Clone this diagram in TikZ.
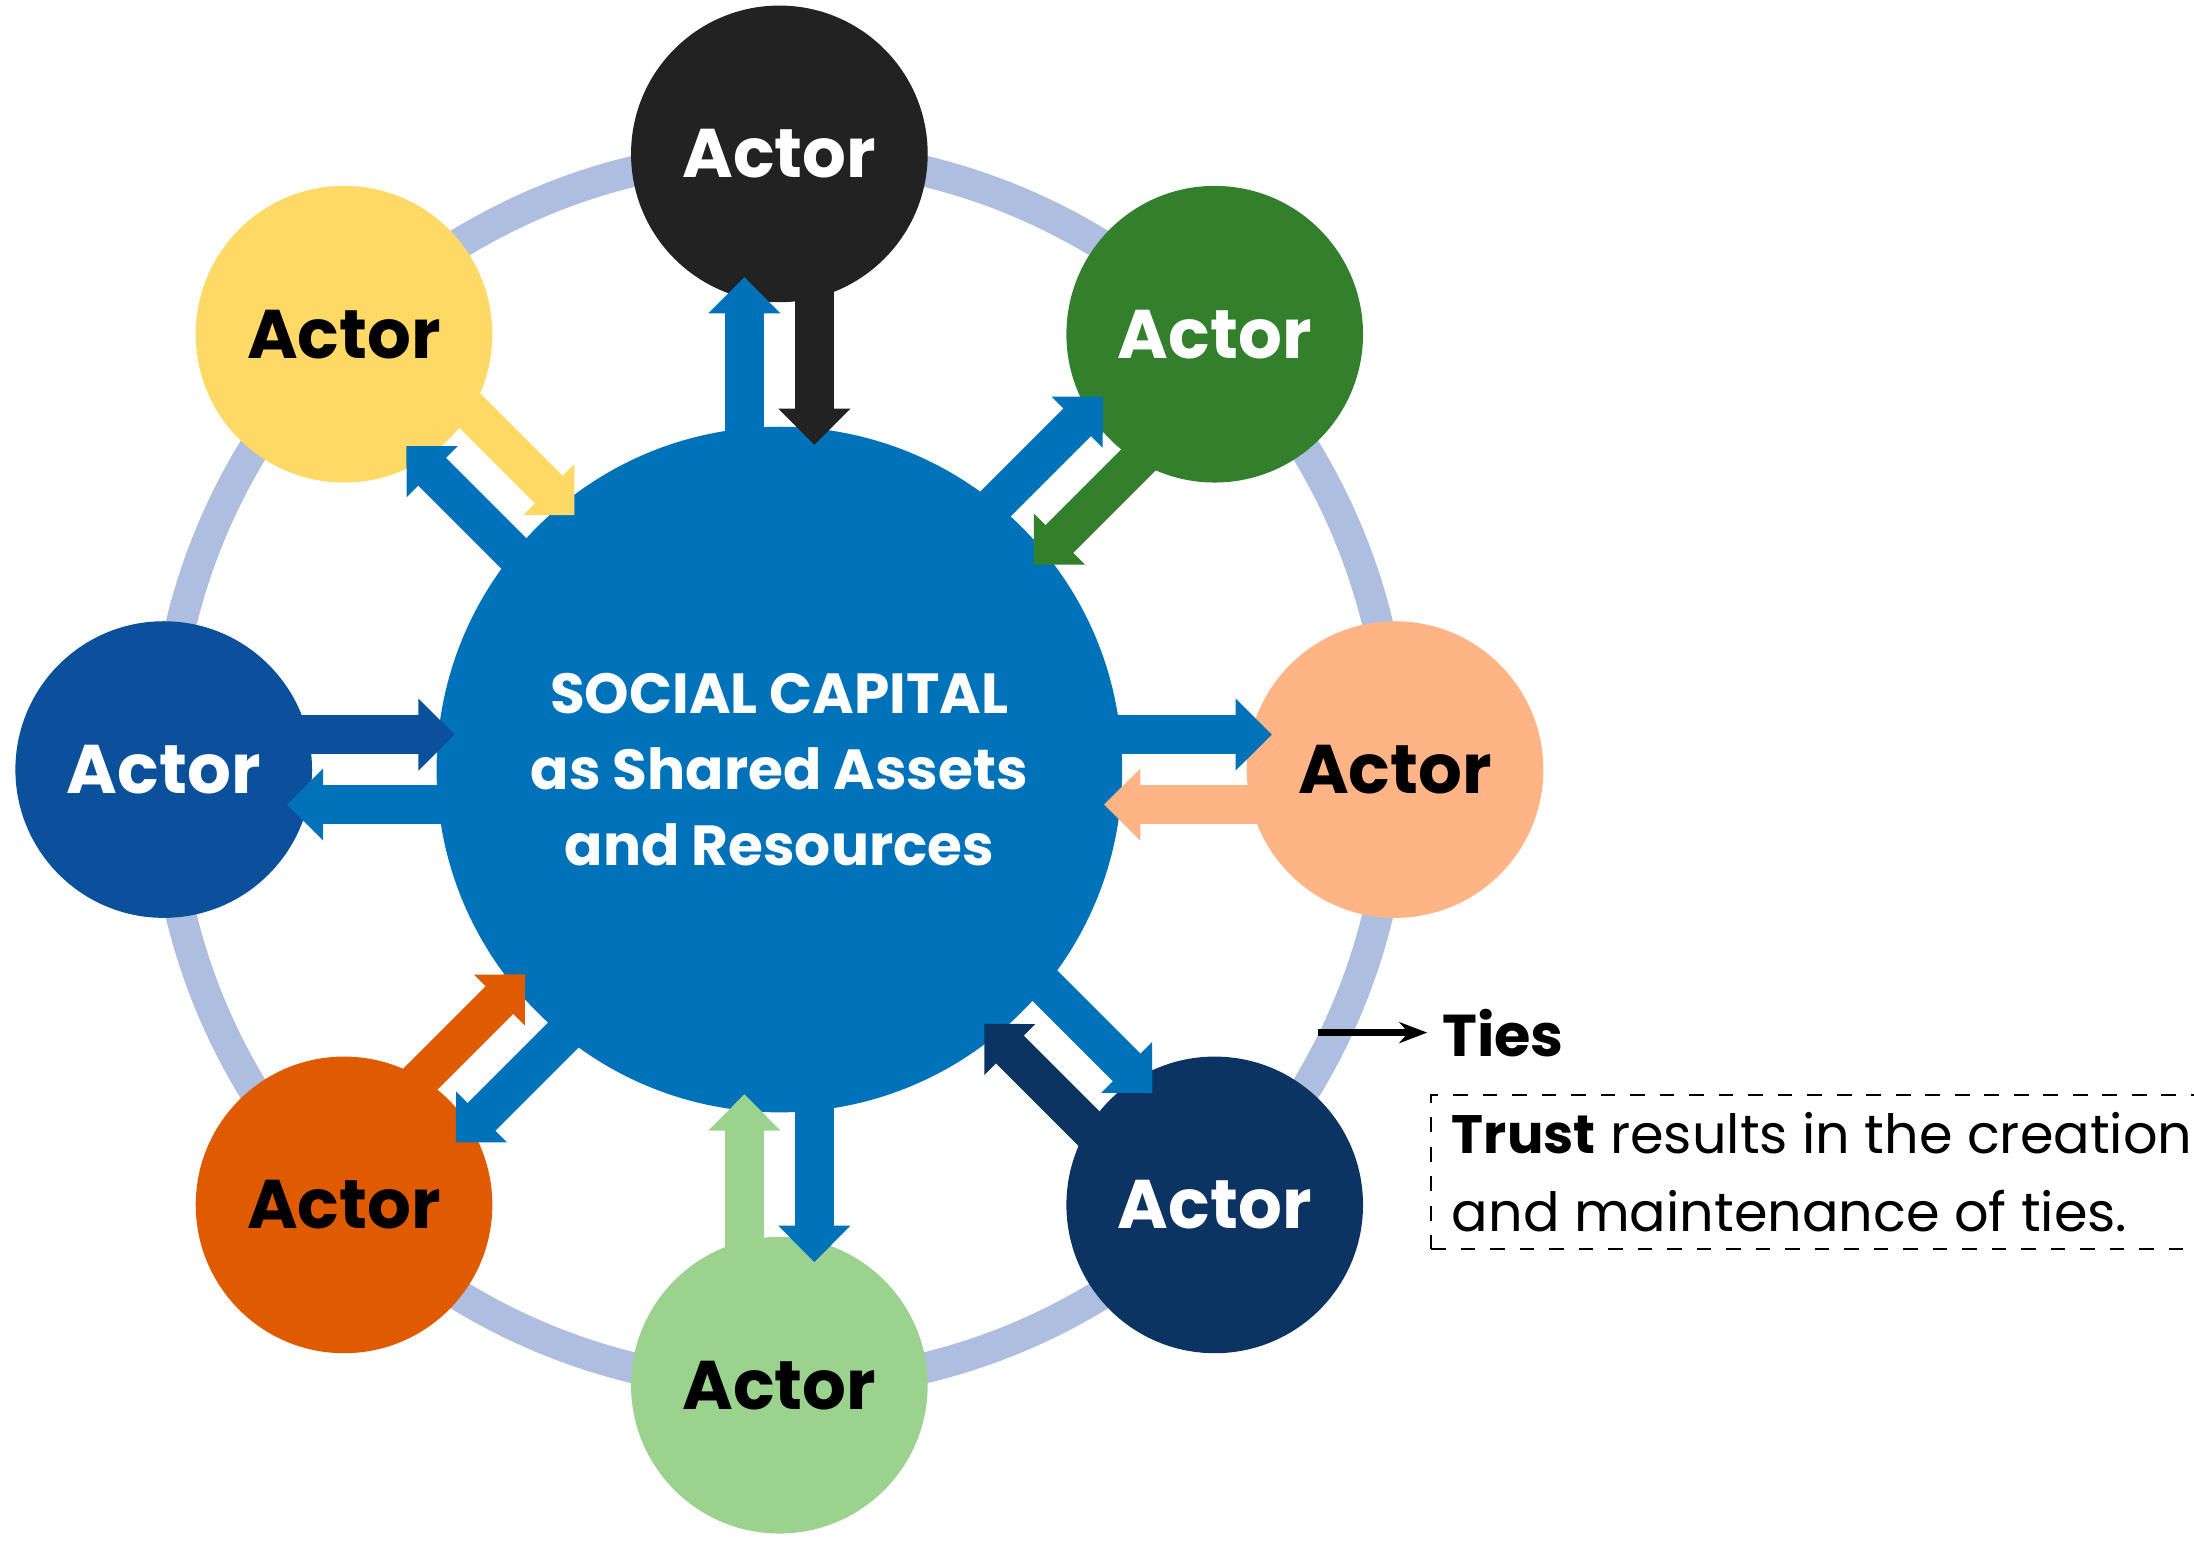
\documentclass[tikz,border=0pt]{standalone}
\usepackage{fontspec}
\setmainfont{Poppins}
\usetikzlibrary{arrows.meta,calc}
\definecolor{ring}{RGB}{174,190,225}
\definecolor{cblue}{RGB}{0,114,185}
\definecolor{cblack}{RGB}{34,34,34}
\definecolor{cgreen}{RGB}{50,128,44}
\definecolor{cpeach}{RGB}{255,180,133}
\definecolor{cnavy}{RGB}{11,52,98}
\definecolor{clgreen}{RGB}{154,210,142}
\definecolor{corange}{RGB}{224,90,0}
\definecolor{cdblue}{RGB}{10,80,155}
\definecolor{cyellow}{RGB}{255,217,102}
\begin{document}
\begin{tikzpicture}[x=0.1mm,y=0.1mm,
  actor/.style={circle,minimum size=21.2mm,inner sep=0,font=\fontsize{14}{17}\selectfont\bfseries},
  blk/.style={line width=2.8mm,-{Triangle[width=5mm,length=2.6mm]}}]
\useasboundingbox (0,0) rectangle (1568,1105);
\coordinate (C) at (557,555);
\draw[ring,line width=2.2mm] (C) circle (440);
\foreach \a/\c/\t/\n in {90/cblack/white/a1,45/cgreen/white/a2,0/cpeach/black/a3,-45/cnavy/white/a4,-90/clgreen/black/a5,-135/corange/black/a6,180/cdblue/white/a7,135/cyellow/black/a8}{
  \node[actor,fill=\c,text=\t] (\n) at ($(C)+(\a:440)$) {Actor};
}
\node[circle,fill=cblue,minimum size=49mm,inner sep=0,text=white,align=center,font=\fontsize{11.5}{15.5}\selectfont\bfseries] (ctr) at (C) {SOCIAL CAPITAL\\as Shared Assets\\and Resources};
\foreach \a/\c in {90/cblack,45/cgreen,0/cpeach,-45/cnavy,-90/clgreen,-135/corange,180/cdblue,135/cyellow}{
  \coordinate (p1) at ($(C)+(\a:230)+(\a+90:25)$);
  \coordinate (p2) at ($(C)+(\a:352)+(\a+90:25)$);
  \coordinate (q1) at ($(C)+(\a:345)+(\a-90:25)$);
  \coordinate (q2) at ($(C)+(\a:232)+(\a-90:25)$);
  \draw[blk,draw=cblue,fill=cblue] (p1) -- (p2);
  \draw[blk,draw=\c,fill=\c] (q1) -- (q2);
}
\node[anchor=west,font=\fontsize{12}{14}\selectfont\bfseries,inner sep=1mm] (ties) at (1020,367) {Ties};
\coordinate (t0) at ($(ties.west)+(-78,0)$);
\draw[-{Stealth[length=2mm]},line width=0.5mm] (t0) -- (ties.west);
\node[draw,dashed,anchor=north west,minimum width=53.8mm,minimum height=11mm,align=left,inner xsep=1.5mm,font=\fontsize{11}{16}\selectfont] (trust) at (1022,323) {\textbf{Trust} results in the creation\\and maintenance of ties.};
\end{tikzpicture}
\end{document}
